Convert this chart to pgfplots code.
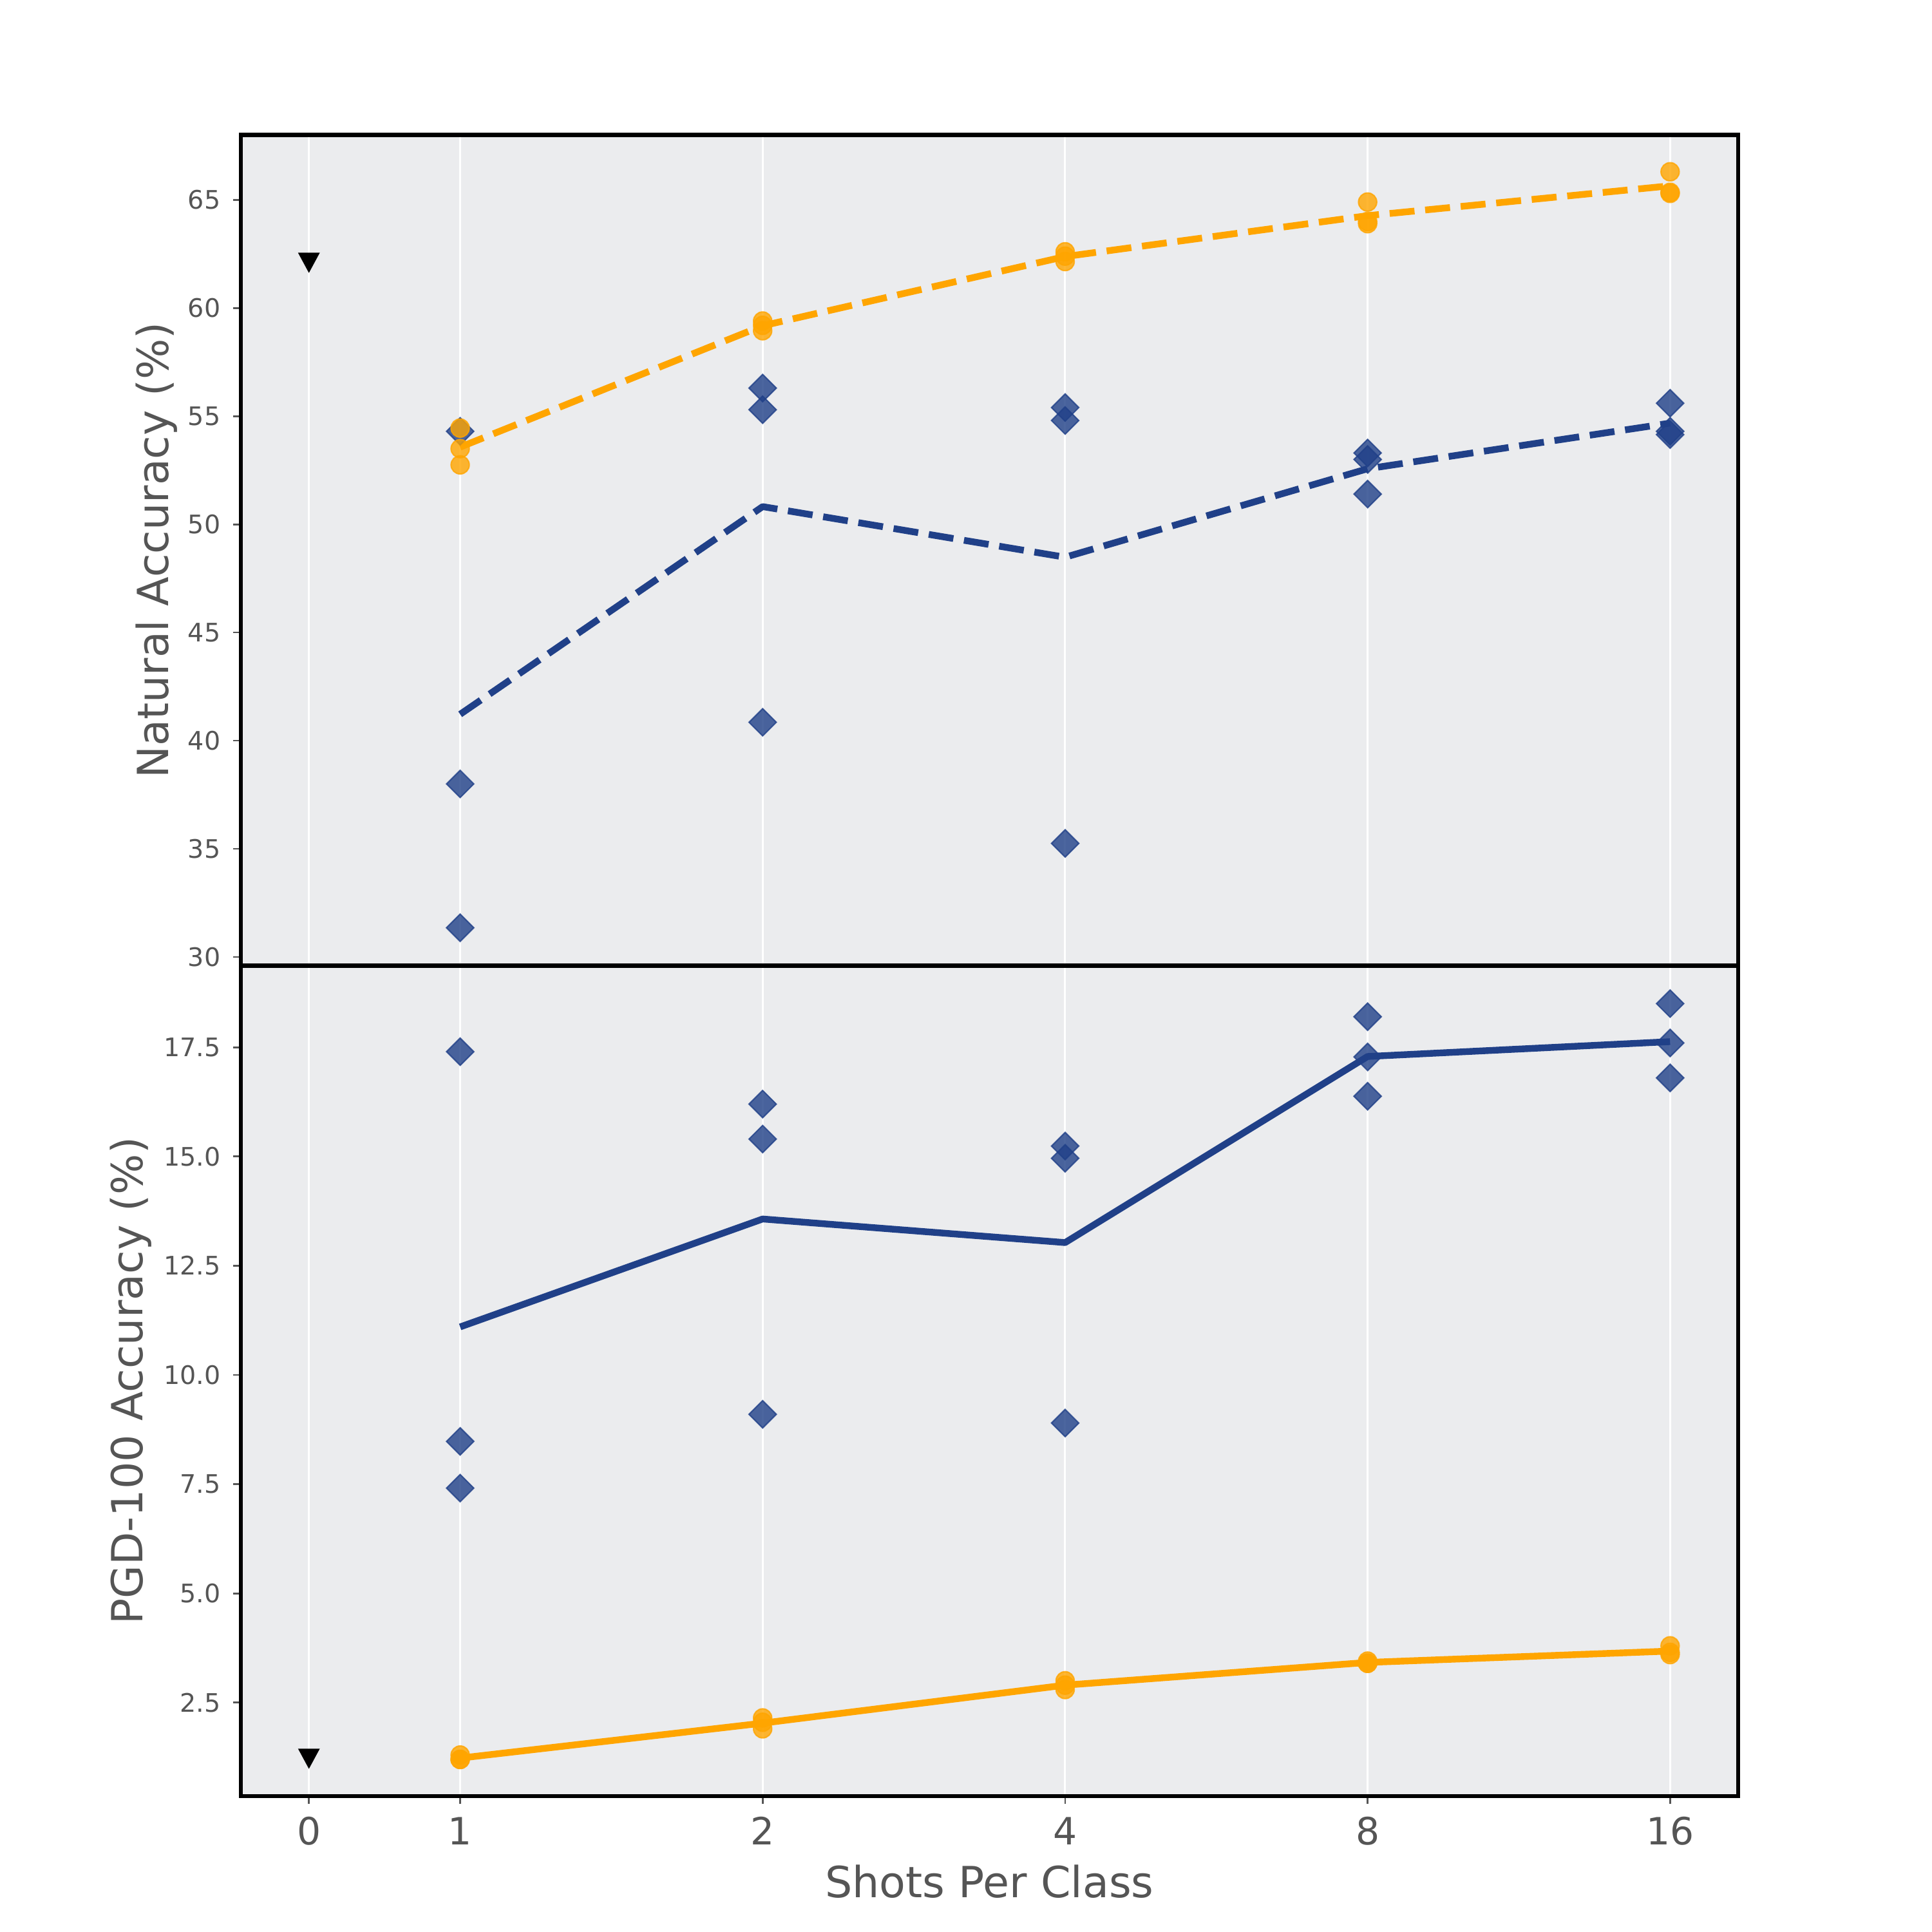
\documentclass[border=0pt]{standalone}
\usepackage{fontspec}
\setmainfont{DejaVu Sans}
\usepackage{pgfplots}
\pgfplotsset{compat=1.18}
\definecolor{bluemain}{RGB}{32,64,136}
\definecolor{orangemain}{RGB}{255,165,0}
\definecolor{bgcol}{RGB}{235,236,238}
\definecolor{txtgray}{RGB}{85,85,85}
\pgfplotsset{
  common/.style={
    scale only axis,
    width=558pt, height=309.5pt,
    xmin=-0.725, xmax=4.225,
    axis background/.style={fill=bgcol},
    axis line style={black, line width=1.6pt},
    xtick={-0.5,0,1,2,3,4},
    xmajorgrids,
    x grid style={white, line width=0.7pt},
    tick align=outside,
    major tick length=2.9pt,
    every tick/.style={txtgray, line width=0.65pt},
    ytick pos=left,
    xtick pos=bottom,
    /pgf/number format/assume math mode=true,
    yticklabel style={font=\fontsize{9.5}{11}\selectfont, text=txtgray, anchor=east, inner sep=0pt, xshift=-4.5pt},
    xticklabel style={font=\fontsize{14}{16}\selectfont, text=txtgray, anchor=base, inner sep=0pt, yshift=-15.3pt},
    label style={font=\fontsize{16}{19}\selectfont, text=txtgray},
  },
  dmark/.style={only marks, mark=square*, mark size=3.6pt,
    mark options={rotate=45, fill=bluemain, draw=bluemain, line width=0.5pt, opacity=0.8}},
  omark/.style={only marks, mark=*, mark size=3.4pt,
    mark options={fill=orangemain, draw=orangemain, line width=0.5pt, opacity=0.8}},
  tmark/.style={only marks, mark=triangle*, mark size=4.3pt,
    mark options={rotate=180, yscale=1.07, yshift=-1.1pt, fill=black, draw=black}},
}
\begin{document}
\begin{tikzpicture}
\path[use as bounding box] (0,0) rectangle (720pt,720pt);
% top axis
\begin{axis}[common,
  at={(89.76pt,360.14pt)}, anchor=south west,
  ymin=29.6, ymax=68.0,
  ytick={30,35,40,45,50,55,60,65},
  xticklabels={},
  xtick style={draw=none},
  ylabel={Natural Accuracy (\%)},
  ylabel style={at={(axis description cs:-0.0482,0.5)}, anchor=base},
]
\addplot[dmark] coordinates {
  (0,54.3) (0,38.0) (0,31.35)
  (1,56.3) (1,55.3) (1,40.85)
  (2,55.4) (2,54.8) (2,35.25)
  (3,53.3) (3,53.0) (3,51.4)
  (4,55.6) (4,54.3) (4,54.15)
};
\addplot[bluemain, line width=2.5pt, dash pattern=on 9.3pt off 4pt, line join=round] coordinates {
  (0,41.22) (1,50.82) (2,48.48) (3,52.57) (4,54.68)
};
\addplot[omark] coordinates {
  (0,54.45) (0,53.5) (0,52.75)
  (1,59.4) (1,59.2) (1,58.95)
  (2,62.6) (2,62.4) (2,62.15)
  (3,64.9) (3,64.0) (3,63.9)
  (4,66.3) (4,65.35) (4,65.3)
};
\addplot[orangemain, line width=2.5pt, dash pattern=on 9.3pt off 4pt, line join=round] coordinates {
  (0,53.57) (1,59.18) (2,62.38) (3,64.27) (4,65.65)
};
\addplot[tmark] coordinates {(-0.5,62.1)};
\end{axis}
% bottom axis
\begin{axis}[common,
  at={(89.76pt,50.64pt)}, anchor=south west,
  ymin=0.36, ymax=19.37,
  ytick={2.5,5,7.5,10,12.5,15,17.5},
  yticklabel style={/pgf/number format/.cd, fixed, fixed zerofill, precision=1},
  xticklabels={0,1,2,4,8,16},
  ylabel={PGD-100 Accuracy (\%)},
  ylabel style={at={(axis description cs:-0.0658,0.5)}, anchor=base},
  xlabel={Shots Per Class},
  xlabel style={at={(axis description cs:0.5,-0.1225)}, anchor=base},
]
\addplot[dmark] coordinates {
  (0,17.4) (0,8.48) (0,7.41)
  (1,16.2) (1,15.4) (1,9.1)
  (2,15.24) (2,14.96) (2,8.9)
  (3,18.2) (3,17.28) (3,16.38)
  (4,18.5) (4,17.6) (4,16.8)
};
\addplot[bluemain, line width=2.5pt, line join=round] coordinates {
  (0,11.10) (1,13.57) (2,13.03) (3,17.29) (4,17.63)
};
\addplot[omark] coordinates {
  (0,1.3) (0,1.2) (0,1.2)
  (1,2.15) (1,2.05) (1,1.9)
  (2,3.0) (2,2.9) (2,2.8)
  (3,3.45) (3,3.4) (3,3.4)
  (4,3.8) (4,3.65) (4,3.6)
};
\addplot[orangemain, line width=2.5pt, line join=round] coordinates {
  (0,1.23) (1,2.03) (2,2.9) (3,3.42) (4,3.68)
};
\addplot[tmark] coordinates {(-0.5,1.22)};
\end{axis}
\end{tikzpicture}
\end{document}
